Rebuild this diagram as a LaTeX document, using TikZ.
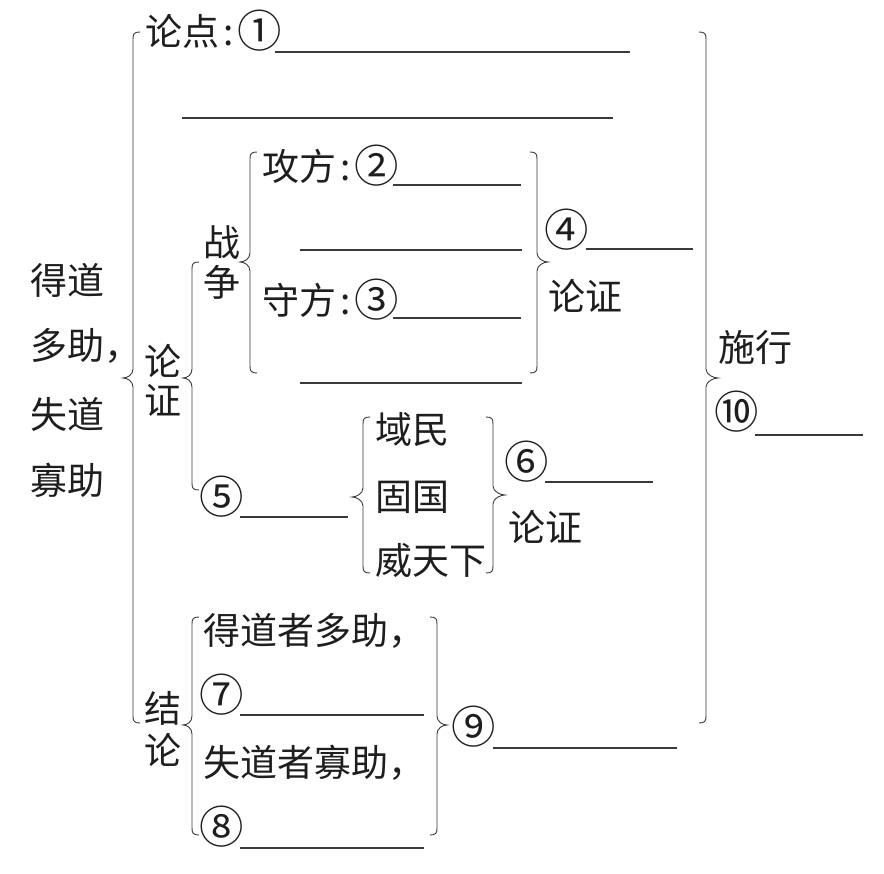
\documentclass[tikz,border=0pt]{standalone}
\usepackage{fontspec}
\setmainfont{Noto Sans CJK SC}
\definecolor{ink}{HTML}{1E1E1E}
\definecolor{lineink}{HTML}{3A3A3A}
\newcommand\cnum[1]{\makebox[1em]{\raisebox{-0.075em}{\scalebox{1.2}{#1}}}}
\newcommand\myLB[5]{% x, tipx, ytop, ymid, ybot
  \draw[br] (#1+7,#3) .. controls (#1+1,#3) and (#1,#3+2) .. (#1,#3+7) -- (#1,#4-9)
    .. controls (#1,#4-3) and (#2+4,#4) .. (#2,#4) .. controls (#2+4,#4) and (#1,#4+3) .. (#1,#4+9)
    -- (#1,#5-7) .. controls (#1,#5-2) and (#1+1,#5) .. (#1+7,#5);}
\newcommand\myRB[5]{% x, tipx, ytop, ymid, ybot
  \draw[br] (#1-7,#3) .. controls (#1-1,#3) and (#1,#3+2) .. (#1,#3+7) -- (#1,#4-9)
    .. controls (#1,#4-3) and (#2-4,#4) .. (#2,#4) .. controls (#2-4,#4) and (#1,#4+3) .. (#1,#4+9)
    -- (#1,#5-7) .. controls (#1,#5-2) and (#1-1,#5) .. (#1-7,#5);}
\begin{document}
\begin{tikzpicture}[x=1pt,y=-1pt,
  txt/.style={anchor=west,inner sep=0pt,font=\fontsize{37}{40}\selectfont,text=ink},
  blank/.style={line width=1.1pt,draw=lineink},
  br/.style={line width=0.9pt,draw=lineink}]
\useasboundingbox[fill=white] (0,0) rectangle (884,874);

% left title
\node[txt] (t1) at (30,280) {得道};
\node[txt] (t2) at (30,346) {多助，};
\node[txt] (t3) at (30,414) {失道};
\node[txt] (t4) at (30,480) {寡助};

% big braces
\myLB{133}{123}{32}{378}{723}
\myRB{706}{718}{32}{378}{723}

% thesis
\node[txt] (ld) at (145,31) {论点\hspace{4pt}:\hspace{8pt}\cnum{①}};
\draw[blank] (275,52) -- (630,52);
\draw[blank] (182,118) -- (613,118);

% argument
\node[txt,anchor=center] (lun1) at (163,361) {论};
\node[txt,anchor=center] (zheng1) at (163,400) {证};
\myLB{192}{183}{262}{378}{490}

\node[txt,anchor=center] (zhan) at (222,243) {战};
\node[txt,anchor=center] (zheng2) at (222,282) {争};
\myLB{250}{240}{152}{262}{373}

\node[txt] (gong) at (262,166) {攻方\hspace{4pt}:\hspace{8pt}\cnum{②}};
\draw[blank] (393,185) -- (521,185);
\draw[blank] (300,250) -- (522,250);
\node[txt] (shou) at (262,300) {守方\hspace{4pt}:\hspace{8pt}\cnum{③}};
\draw[blank] (393,318) -- (521,318);
\draw[blank] (300,383) -- (522,383);
\myRB{537}{548}{152}{262}{373}

\node[txt] (n4) at (548,230) {\cnum{④}};
\draw[blank] (586,249) -- (693,249);
\node[txt] (lz1) at (548,296) {论证};

\node[txt] (n5) at (203,497) {\cnum{⑤}};
\draw[blank] (240,517) -- (348,517);
\myLB{363}{352}{417}{497}{573}
\node[txt] (yu) at (375,430) {域民};
\node[txt] (gu) at (375,497) {固国};
\node[txt] (wei) at (375,560) {威天下};
\myRB{493}{505}{417}{495}{573}
\node[txt] (n6) at (508,462) {\cnum{⑥}};
\draw[blank] (545,482) -- (653,482);
\node[txt] (lz2) at (508,527) {论证};

% conclusion
\node[txt,anchor=center] (jie) at (163,708) {结};
\node[txt,anchor=center] (lun2) at (163,750) {论};
\myLB{192}{183}{617}{725}{835}
\node[txt] (dd) at (203,631) {得道者多助，};
\node[txt] (n7) at (203,695) {\cnum{⑦}};
\draw[blank] (240,715) -- (424,715);
\node[txt] (sd) at (203,763) {失道者寡助，};
\node[txt] (n8) at (203,827) {\cnum{⑧}};
\draw[blank] (240,848) -- (424,848);
\myRB{437}{447}{617}{725}{835}
\node[txt] (n9) at (455,727) {\cnum{⑨}};
\draw[blank] (493,748) -- (677,748);

% right
\node[txt] (sx) at (718,347) {施行};
\node[txt] (n10) at (718,412) {\cnum{⑩}};
\draw[blank] (755,435) -- (863,435);
\end{tikzpicture}
\end{document}
